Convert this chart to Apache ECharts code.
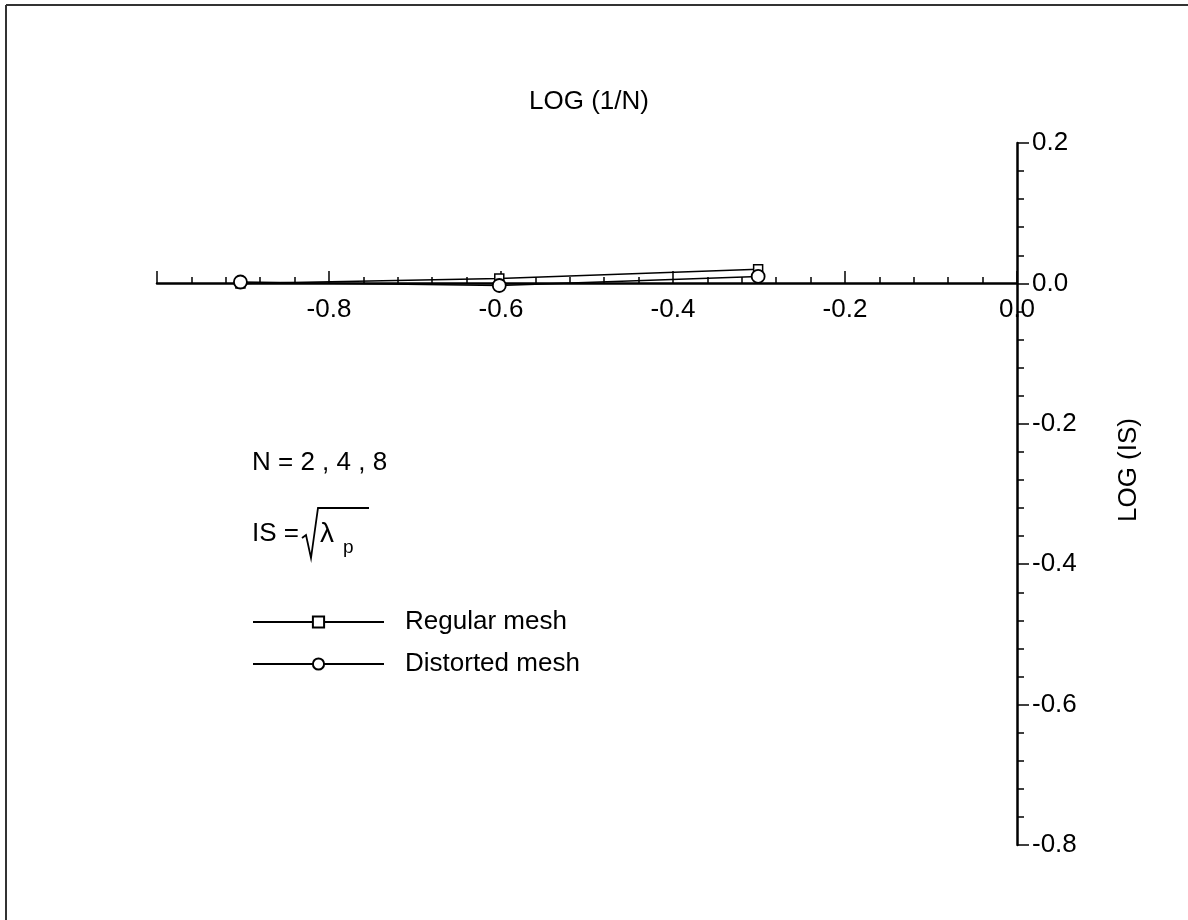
<!DOCTYPE html>
<html>
<head>
<meta charset="utf-8">
<script src="https://cdn.jsdelivr.net/npm/echarts@6/dist/echarts.min.js"></script>
<style>
  html, body { margin: 0; padding: 0; background: #fff; }
  #main { width: 1188px; height: 920px; }
</style>
</head>
<body>
<div id="main"></div>
<script>
// LOG(1/N) for N = 8, 4, 2
var logInvN = [-0.903, -0.602, -0.301];
var regularIS = [0.0, 0.007, 0.02];     // Regular mesh
var distortedIS = [0.002, -0.003, 0.01]; // Distorted mesh
var seriesNames = ['Regular mesh', 'Distorted mesh'];

var FONT = '"Liberation Sans", Arial, Helvetica, sans-serif';

function pairs(xs, ys) {
	return xs.map(function (x, i) { return [x, ys[i]]; });
}

var myChart = echarts.init(document.getElementById('main'));

var option = {
	backgroundColor: '#fff',
	animation: false,
	textStyle: { fontFamily: FONT, color: '#000' },
	title: {
		text: 'LOG (1/N)',
		left: 584,
		top: 84,
		textAlign: 'center',
		textStyle: { fontFamily: FONT, fontSize: 26, fontWeight: 'normal', color: '#000' }
	},
	grid: { left: 157, right: 171, top: 143, bottom: 75, containLabel: false },
	legend: {
		orient: 'vertical',
		left: 252,
		top: 607,
		padding: 0,
		itemWidth: 131,
		itemHeight: 14,
		itemGap: 12,
		data: seriesNames,
		textStyle: { fontFamily: FONT, fontSize: 26, color: '#000', lineHeight: 30, padding: [0, 0, 0, 16] }
	},
	xAxis: {
		type: 'value',
		min: -1,
		max: 0,
		interval: 0.2,
		position: 'bottom',
		offset: -562, // axis sits on y = 0
		axisLine: { onZero: false, lineStyle: { color: '#000', width: 2.5 } },
		axisTick: { show: true, inside: true, length: 12, lineStyle: { color: '#000', width: 1.5 } },
		minorTick: { show: true, splitNumber: 5, length: 6, lineStyle: { color: '#000', width: 1.5 } },
		axisLabel: {
			showMinLabel: false,
			margin: 14,
			fontSize: 26,
			color: '#000',
			fontFamily: FONT,
			formatter: function (v) { return v.toFixed(1); }
		},
		splitLine: { show: false }
	},
	yAxis: {
		type: 'value',
		position: 'right',
		min: -0.8,
		max: 0.2,
		interval: 0.2,
		axisLine: { onZero: false, lineStyle: { color: '#000', width: 2.5 } },
		axisTick: { show: true, inside: false, length: 12, lineStyle: { color: '#000', width: 1.5 } },
		minorTick: { show: true, splitNumber: 5, length: 7, lineStyle: { color: '#000', width: 1.5 } },
		axisLabel: {
			margin: 15,
			fontSize: 26,
			color: '#000',
			fontFamily: FONT,
			formatter: function (v) { return v.toFixed(1); }
		},
		splitLine: { show: false }
	},
	graphic: [
		// scanned page edge on top and left
		{ type: 'line', shape: { x1: 6, y1: 5, x2: 6, y2: 920 }, style: { stroke: '#333', lineWidth: 2 } },
		{ type: 'line', shape: { x1: 6, y1: 5, x2: 1188, y2: 5 }, style: { stroke: '#333', lineWidth: 2 } },
		{
			type: 'text', x: 1129, y: 470, rotation: Math.PI / 2,
			style: { text: 'LOG (IS)', font: '26px ' + FONT, fill: '#000', align: 'center', verticalAlign: 'middle' }
		},
		{
			type: 'text', x: 252, y: 463,
			style: { text: 'N = 2 , 4 , 8', font: '26px ' + FONT, fill: '#000', align: 'left', verticalAlign: 'middle' }
		},
		{
			type: 'text', x: 252, y: 534,
			style: { text: 'IS =', font: '26px ' + FONT, fill: '#000', align: 'left', verticalAlign: 'middle' }
		},
		{
			type: 'polyline',
			shape: { points: [[302, 538], [306, 535], [311, 558], [318, 508], [369, 508]] },
			style: { stroke: '#000', lineWidth: 1.8, fill: null }
		},
		{
			type: 'text', x: 320, y: 534,
			style: { text: 'λ', font: '28px ' + FONT, fill: '#000', align: 'left', verticalAlign: 'middle' }
		},
		{
			type: 'text', x: 343, y: 548,
			style: { text: 'p', font: '19px ' + FONT, fill: '#000', align: 'left', verticalAlign: 'middle' }
		}
	],
	series: [{
		name: seriesNames[0],
		type: 'line',
		data: pairs(logInvN, regularIS),
		symbol: 'rect',
		symbolSize: 9,
		showAllSymbol: true,
		lineStyle: { color: '#000', width: 1.5 },
		itemStyle: { color: '#fff', borderColor: '#000', borderWidth: 1.5 }
	}, {
		name: seriesNames[1],
		type: 'line',
		data: pairs(logInvN, distortedIS),
		symbol: 'circle',
		symbolSize: 13,
		showAllSymbol: true,
		lineStyle: { color: '#000', width: 1.5 },
		itemStyle: { color: '#fff', borderColor: '#000', borderWidth: 1.8 }
	}]
};

myChart.setOption(option);
</script>
</body>
</html>
